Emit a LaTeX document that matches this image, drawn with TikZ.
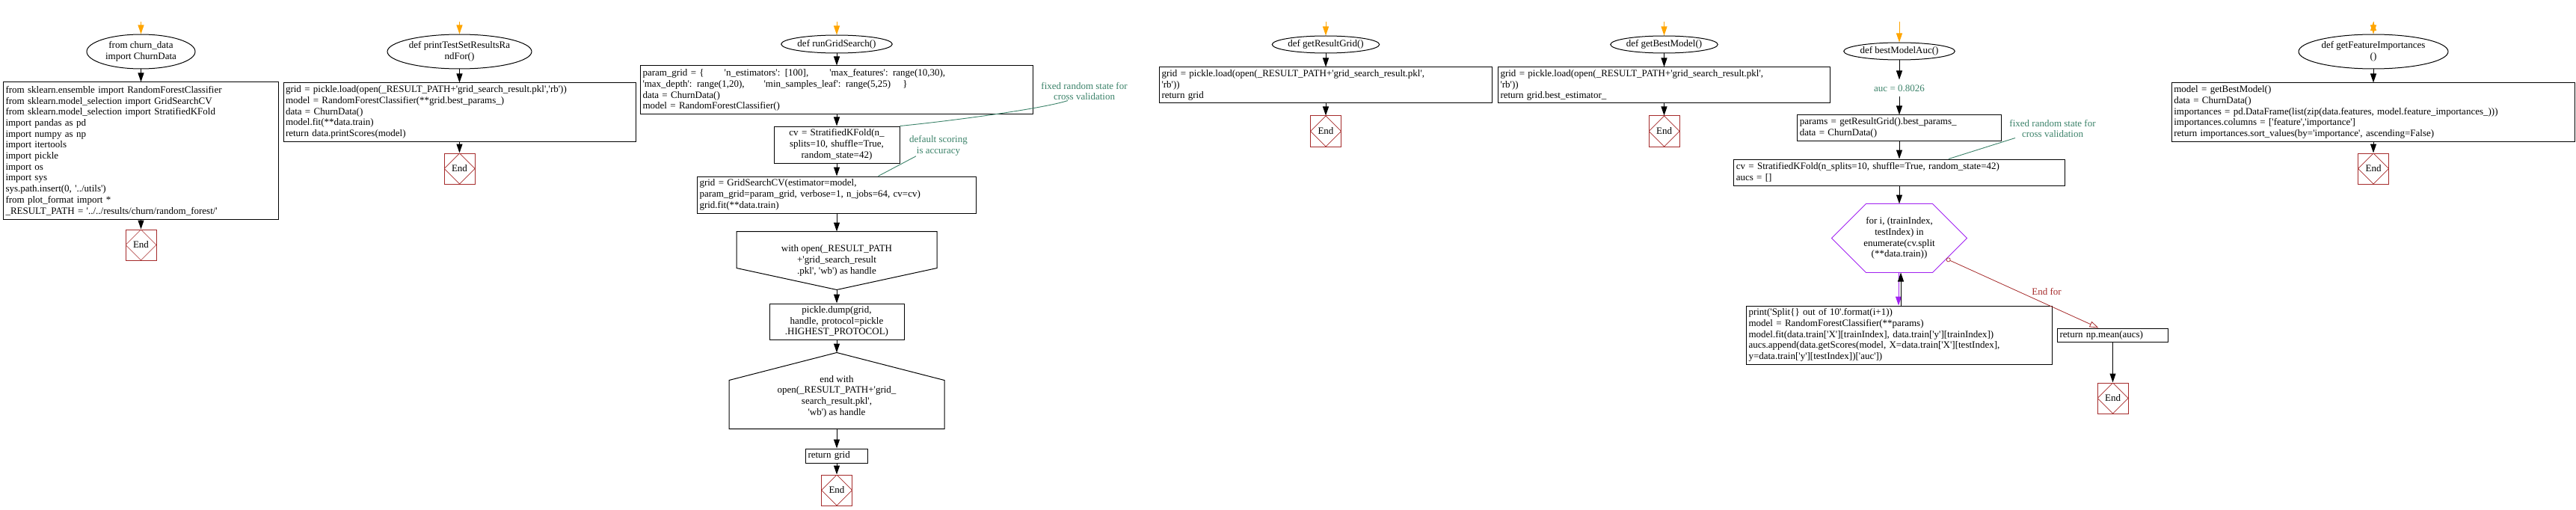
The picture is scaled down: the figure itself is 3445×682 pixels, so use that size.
\documentclass[tikz,border=0pt]{standalone}
\usepackage{fontspec}
\setmainfont{Liberation Serif}[Ligatures=TeXOff]
\usepackage{tikz}
\usetikzlibrary{arrows.meta,positioning,shapes.geometric,calc}
\tikzset{>/.tip={Triangle[length=12pt,width=8pt]}}
\tikzset{ring/.tip={Circle[open,length=6pt]}}
\tikzset{hollow/.tip={Triangle[open,length=12pt,width=8pt]}}
\definecolor{entryorange}{RGB}{255,165,0}
\definecolor{endred}{RGB}{165,42,42}
\definecolor{notegreen}{RGB}{59,130,105}
\definecolor{loopviolet}{RGB}{160,32,240}
\def\codefont{\fontsize{13}{14.7}\selectfont}

\begin{document}
\begin{tikzpicture}[x=1pt,y=-1pt,font=\codefont,line width=1pt,
        term/.style={ellipse,draw,inner sep=0pt,align=center},
        box/.style={draw,inner sep=3pt,align=left},
        cbox/.style={draw,inner sep=3pt,align=center},
        endbox/.style={draw=endred,minimum width=41pt,minimum height=41pt,inner sep=0pt,
          path picture={\draw[endred,line width=0.7pt] (path picture bounding box.north) -- (path picture bounding box.east)
            -- (path picture bounding box.south) -- (path picture bounding box.west) -- cycle;}},
        note/.style={text=notegreen,inner sep=0pt,align=center},
        noteline/.style={notegreen,line width=0.9pt},
        entry/.style={->,entryorange},
        endfor/.style={ring-hollow,endred,line width=0.8pt}]
        \useasboundingbox (0,0) rectangle (3445,682);
        \coordinate(in1) at (188.5,29);
        \coordinate(in2) at (614.5,29);
        \coordinate(in3) at (1119,29);
        \coordinate(in4) at (1773,29);
        \coordinate(in5) at (2225.5,29);
        \coordinate(in6) at (2540,29);
        \coordinate(in7) at (3174,29);
        \node(e1)[term,minimum width=145pt,minimum height=46pt] at (188.5,69){from churn\_data\\import ChurnData};
        \node(b1)[box,text width=362pt,minimum height=183pt,below=17pt of e1]{from sklearn.ensemble import RandomForestClassifier\\from sklearn.model\_selection import GridSearchCV\\from sklearn.model\_selection import StratifiedKFold\\import pandas as pd\\import numpy as np\\import itertools\\import pickle\\import os\\import sys\\sys.path.insert(0, '../utils')\\from plot\_format import *\\\_RESULT\_PATH = '../../results/churn/random\_forest/'};
        \node(end1)[endbox,below=13pt of b1]{End};
        \node(e2)[term,minimum width=193pt,minimum height=46pt] at (614.5,69){def printTestSetResultsRa\\ndFor()};
        \node(b2)[box,text width=465pt,minimum height=78pt,below=18pt of e2]{grid = pickle.load(open(\_RESULT\_PATH+'grid\_search\_result.pkl','rb'))\\model = RandomForestClassifier(**grid.best\_params\_)\\data = ChurnData()\\model.fit(**data.train)\\return data.printScores(model)};
        \node(end2)[endbox,below=15pt of b2]{End};
        \node(e3)[term,minimum width=147pt,minimum height=24pt] at (1119,59){def runGridSearch()};
        \node(b3)[box,text width=519pt,minimum height=65pt,below=16pt of e3]{param\_grid = \{\hspace{27pt}'n\_estimators': [100],\hspace{28pt}'max\_features': range(10,30),\\'max\_depth': range(1,20),\hspace{26pt}'min\_samples\_leaf': range(5,25)\hspace{16pt}\}\\data = ChurnData()\\model = RandomForestClassifier()};
        \node(cv)[cbox,text width=162pt,minimum height=49pt,below=15pt of b3]{cv = StratifiedKFold(n\_\\splits=10, shuffle=True,\\random\_state=42)};
        \node(grd)[box,text width=367pt,minimum height=49pt,below=17pt of cv]{grid = GridSearchCV(estimator=model,\\param\_grid=param\_grid, verbose=1, n\_jobs=64, cv=cv)\\grid.fit(**data.train)};
        \node(wth)[minimum width=267pt,minimum height=77pt,inner sep=0pt,align=center,below=24pt of grd]{with open(\_RESULT\_PATH\\+'grid\_search\_result\\.pkl', 'wb') as handle};
        \node(pk)[cbox,text width=174pt,minimum height=48pt,below=18pt of wth]{pickle.dump(grid,\\handle, protocol=pickle\\.HIGHEST\_PROTOCOL)};
        \node(ewth)[minimum width=287pt,minimum height=101pt,inner sep=0pt,align=center,below=17pt of pk]{\rule{0pt}{24pt}end with\\open(\_RESULT\_PATH+'grid\_\\search\_result.pkl',\\'wb') as handle};
        \node(rg)[box,text width=77pt,minimum height=19pt,below=26pt of ewth]{return grid};
        \node(end3)[endbox,below=15pt of rg]{End};
        \node(fr1)[note] at (1450,122){fixed random state for\\cross validation};
        \node(ds)[note] at (1255,195){default scoring\\is accuracy};
        \node(e4)[term,minimum width=142pt,minimum height=23pt] at (1773,59.5){def getResultGrid()};
        \node(b4)[box,text width=439pt,minimum height=48pt,below=18pt of e4]{grid = pickle.load(open(\_RESULT\_PATH+'grid\_search\_result.pkl',\\'rb'))\\return grid};
        \node(end4)[endbox,below=16pt of b4]{End};
        \node(e5)[term,minimum width=139pt,minimum height=23pt] at (2225.5,59.5){def getBestModel()};
        \node(b5)[box,text width=438pt,minimum height=48pt,below=18pt of e5]{grid = pickle.load(open(\_RESULT\_PATH+'grid\_search\_result.pkl',\\'rb'))\\return grid.best\_estimator\_};
        \node(end5)[endbox,below=16pt of b5]{End};
        \node(e6)[term,minimum width=147pt,minimum height=23pt] at (2540,68.5){def bestModelAuc()};
        \node(auc)[note,minimum height=22pt,below=26pt of e6]{auc = 0.8026};
        \node(prm)[box,text width=266.5pt,minimum height=34pt,below=24pt of auc]{params = getResultGrid().best\_params\_\\data = ChurnData()};
        \node(cv2)[box,text width=436.5pt,minimum height=35pt,below=24pt of prm]{cv = StratifiedKFold(n\_splits=10, shuffle=True, random\_state=42)\\aucs = []};
        \node(loop)[minimum width=180pt,minimum height=91pt,inner sep=0pt,align=center,below=24pt of cv2]{for i, (trainIndex,\\testIndex) in\\enumerate(cv.split\\(**data.train))};
        \node(body)[box,text width=403pt,minimum height=78pt,below=44pt of loop]{print('Split\{\} out of 10'.format(i+1))\\model = RandomForestClassifier(**params)\\model.fit(data.train['X'][trainIndex], data.train['y'][trainIndex])\\aucs.append(data.getScores(model, X=data.train['X'][testIndex],\\y=data.train['y'][testIndex])['auc'])};
        \node(ret)[box,text width=142pt,minimum height=18pt,right=6pt of body]{return np.mean(aucs)};
        \node(end6)[endbox,below=54pt of ret]{End};
        \node(fr2)[note] at (2745,172){fixed random state for\\cross validation};
        \node(e7)[term,minimum width=200pt,minimum height=46pt] at (3174,69){def getFeatureImportances\\()};
        \node(b7)[box,text width=533.5pt,minimum height=78pt,below=18pt of e7]{model = getBestModel()\\data = ChurnData()\\importances = pd.DataFrame(list(zip(data.features, model.feature\_importances\_)))\\importances.columns = ['feature','importance']\\return importances.sort\_values(by='importance', ascending=False)};
        \node(end7)[endbox,below=15pt of b7]{End};
        \draw (wth.north west) -- (wth.north east) -- ([yshift=29pt]wth.south east) -- (wth.south)
          -- ([yshift=29pt]wth.south west) -- cycle;
        \draw (ewth.north) -- ([yshift=-37pt]ewth.north east) -- (ewth.south east) -- (ewth.south west)
          -- ([yshift=-37pt]ewth.north west) -- cycle;
        \draw[loopviolet,line width=0.8pt] (loop.west) -- ([xshift=-44.5pt]loop.north) -- ([xshift=44.5pt]loop.north)
          -- (loop.east) -- ([xshift=44.5pt]loop.south) -- ([xshift=-44.5pt]loop.south) -- cycle;
        \draw[entry]
        (in1) edge (e1)
        (in2) edge (e2)
        (in3) edge (e3)
        (in4) edge (e4)
        (in5) edge (e5)
        (in6) edge (e6)
        (in7) edge (e7);
        \draw[->]
        (e1) edge (b1)
        (b1) edge (end1)
        (e2) edge (b2)
        (b2) edge (end2)
        (e3) edge (b3)
        (b3) edge (cv)
        (cv) edge (grd)
        (grd) edge (wth)
        (wth) edge (pk)
        (pk) edge (ewth)
        (ewth) edge (rg)
        (rg) edge (end3)
        (e4) edge (b4)
        (b4) edge (end4)
        (e5) edge (b5)
        (b5) edge (end5)
        (e6) edge (auc)
        (auc) edge (prm)
        (prm) edge (cv2)
        (cv2) edge (loop)
        (ret) edge (end6)
        (e7) edge (b7)
        (b7) edge (end7);
        \draw[->,loopviolet] ([xshift=-1pt]loop.south) -- ([xshift=-1pt]body.north);
        \draw[->] ([xshift=2pt]body.north) -- ([xshift=2pt]loop.south);
        \coordinate(lpx) at ($(loop.east)!0.6!(loop.south)+(26.7pt,0pt)$);
        \draw[endfor] (lpx) -- node[pos=0.55,above right,text=endred,inner sep=2pt]{End for} ([xshift=-19pt]ret.north);
        \draw[noteline] ([xshift=-22pt]fr1.south) .. controls +(-30pt,-10pt) and +(80pt,8pt) .. (cv.north east);
        \draw[noteline] ([xshift=-30pt]ds.south) -- ([xshift=55.5pt]grd.north);
        \draw[noteline] ([xshift=-50pt]fr2.south) -- ([xshift=66pt]cv2.north);
      \end{tikzpicture}
\end{document}
